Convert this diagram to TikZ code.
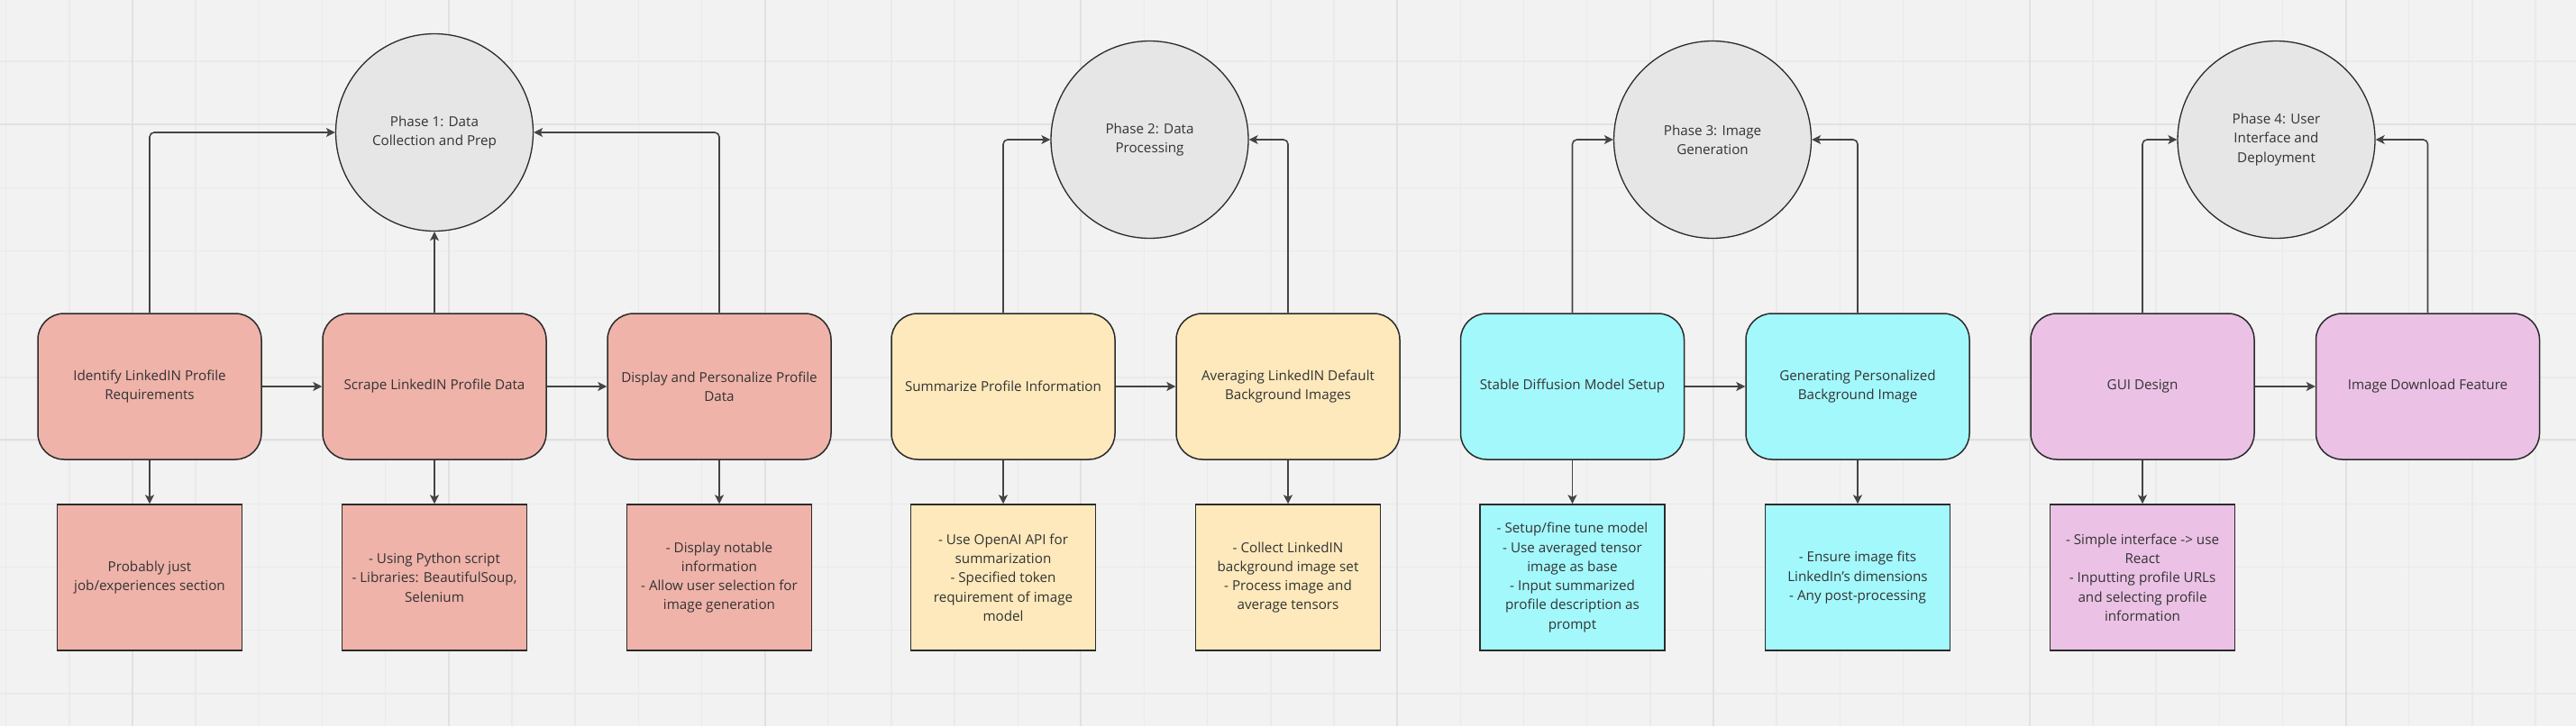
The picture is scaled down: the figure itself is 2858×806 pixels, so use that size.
\documentclass[tikz,border=0pt]{standalone}
\usepackage{fontspec}
\setmainfont{Open Sans}
\usetikzlibrary{arrows.meta}
\definecolor{bgc}{HTML}{F2F2F2}
\definecolor{gridminor}{HTML}{EAEAEA}
\definecolor{gridmajor}{HTML}{E1E1E1}
\definecolor{salmon}{HTML}{EFB3A9}
\definecolor{sand}{HTML}{FDE9BB}
\definecolor{aqua}{HTML}{A3F8FC}
\definecolor{orchid}{HTML}{EBC2E5}
\definecolor{phasegray}{HTML}{E6E6E6}
\definecolor{inkc}{HTML}{333333}
\definecolor{edgec}{HTML}{2B2B2B}
\definecolor{arrowc}{HTML}{444444}
\tikzset{
  txt/.style={text=inkc, font=\fontsize{15.2}{21.3}\selectfont, align=center},
  task/.style={txt, rectangle, rounded corners=29pt, draw=edgec, line width=1.5pt,
    minimum width=248pt, minimum height=162pt, inner sep=0pt},
  note/.style={txt, rectangle, draw=edgec, line width=1.5pt,
    minimum width=205pt, minimum height=162pt, inner sep=0pt},
  phase/.style={txt, circle, draw=edgec, line width=1.3pt, fill=phasegray,
    minimum size=219pt, inner sep=0pt},
  conn/.style={draw=arrowc, line width=1.6pt, rounded corners=5pt,
    -{Stealth[length=10pt,width=10pt,inset=2.5pt]}},
  gminor/.style={draw=gridminor, line width=1.4pt},
  gmajor/.style={draw=gridmajor, line width=2pt}
}
\begin{document}
\begin{tikzpicture}[x=1pt,y=-1pt]
\useasboundingbox (0,0) rectangle (2858,806);
\fill[bgc] (0,0) rectangle (2858,806);
% grid
\foreach \i in {-2,...,38} {
  \draw[gminor] ({147+70.16*\i},0) -- ({147+70.16*\i},806);
}
\foreach \j in {-1,...,10} {
  \draw[gminor] (0,{138+70.2*\j}) -- (2858,{138+70.2*\j});
}
\foreach \i in {0,...,7} {
  \draw[gmajor] ({147+350.8*\i},0) -- ({147+350.8*\i},806);
}
\foreach \j in {0,1} {
  \draw[gmajor] (0,{138+350*\j}) -- (2858,{138+350*\j});
}
% phases
\node[phase] (c1) at (482,147) {Phase 1: Data\\Collection and Prep};
\node[phase] (c2) at (1275.5,155) {Phase 2: Data\\Processing};
\node[phase] (c3) at (1900,155) {Phase 3: Image\\Generation};
\node[phase] (c4) at (2525.5,155) {Phase 4: User\\Interface and\\Deployment};
% tasks
\node[task, fill=salmon] (b1) at (166,429) {Identify LinkedIN Profile\\Requirements};
\node[task, fill=salmon] (b2) at (482,429) {Scrape LinkedIN Profile Data};
\node[task, fill=salmon] (b3) at (798,429) {Display and Personalize Profile\\Data};
\node[task, fill=sand] (b4) at (1113,429) {Summarize Profile Information};
\node[task, fill=sand] (b5) at (1429,429) {Averaging LinkedIN Default\\Background Images};
\node[task, fill=aqua] (b6) at (1744.5,429) {Stable Diffusion Model Setup};
\node[task, fill=aqua] (b7) at (2061,429) {Generating Personalized\\Background Image};
\node[task, fill=orchid] (b8) at (2377,429) {GUI Design};
\node[task, fill=orchid] (b9) at (2693.5,429) {Image Download Feature};
% notes
\node[note, fill=salmon] (n1) at (166,641) {Probably just\\job/experiences section};
\node[note, fill=salmon] (n2) at (482,641) {- Using Python script\\- Libraries: BeautifulSoup,\\Selenium};
\node[note, fill=salmon] (n3) at (798,641) {- Display notable\\information\\- Allow user selection for\\image generation};
\node[note, fill=sand] (n4) at (1113,641) {- Use OpenAI API for\\summarization\\- Specified token\\requirement of image\\model};
\node[note, fill=sand] (n5) at (1429,641) {- Collect LinkedIN\\background image set\\- Process image and\\average tensors};
\node[note, fill=aqua] (n6) at (1744.5,641) {- Setup/fine tune model\\- Use averaged tensor\\image as base\\- Input summarized\\profile description as\\prompt};
\node[note, fill=aqua] (n7) at (2061,641) {- Ensure image fits\\LinkedIn's dimensions\\- Any post-processing};
\node[note, fill=orchid] (n8) at (2377,641) {- Simple interface -> use\\React\\- Inputting profile URLs\\and selecting profile\\information};
% connectors up to phases
\draw[conn] (b1.north) |- (c1.west);
\draw[conn] (b2.north) -- (c1.south);
\draw[conn] (b3.north) |- (c1.east);
\draw[conn] (b4.north) |- (c2.west);
\draw[conn] (b5.north) |- (c2.east);
\draw[conn] (b6.north) |- (c3.west);
\draw[conn] (b7.north) |- (c3.east);
\draw[conn] (b8.north) |- (c4.west);
\draw[conn] (b9.north) |- (c4.east);
% horizontal flow
\draw[conn] (b1.east) -- (b2.west);
\draw[conn] (b2.east) -- (b3.west);
\draw[conn] (b4.east) -- (b5.west);
\draw[conn] (b6.east) -- (b7.west);
\draw[conn] (b8.east) -- (b9.west);
% down to notes
\foreach \k in {1,...,8} {
  \draw[conn] (b\k.south) -- (n\k.north);
}
\end{tikzpicture}
\end{document}
